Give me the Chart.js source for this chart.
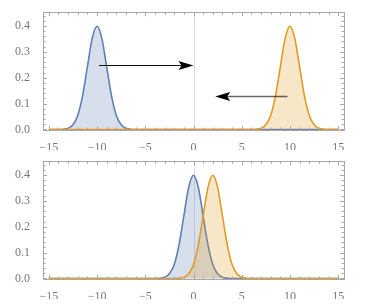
<!DOCTYPE html>
<html>
<head>
<meta charset="utf-8">
<script src="https://cdn.jsdelivr.net/npm/chart.js@4/dist/chart.umd.min.js"></script>
<style>
  body { margin: 0; background: #fff; }
  canvas { position: absolute; left: 0; }
  #top-canvas { top: 0; }
  #bottom-canvas { top: 149px; }
</style>
</head>
<body>
<canvas id="top-canvas" width="374" height="150"></canvas>
<canvas id="bottom-canvas" width="374" height="150"></canvas>
<script>
// density values, same bell shape for every curve
const bellY = [0, 0.0001, 0.0009, 0.0044, 0.018, 0.054, 0.130, 0.242, 0.352, 0.399,
  0.352, 0.242, 0.130, 0.054, 0.018, 0.0044, 0.0009, 0.0001, 0];

const topBlueX = [-15, -14, -13.5, -13, -12.5, -12, -11.5, -11, -10.5, -10, -9.5, -9, -8.5, -8, -7.5, -7, -6.5, -6, 15];
const topOrangeX = [-15, 6, 6.5, 7, 7.5, 8, 8.5, 9, 9.5, 10, 10.5, 11, 11.5, 12, 12.5, 13, 13.5, 14, 15];
const bottomBlueX = [-15, -4, -3.5, -3, -2.5, -2, -1.5, -1, -0.5, 0, 0.5, 1, 1.5, 2, 2.5, 3, 3.5, 4, 15];
const bottomOrangeX = [-15, -2, -1.5, -1, -0.5, 0, 0.5, 1, 1.5, 2, 2.5, 3, 3.5, 4, 4.5, 5, 5.5, 6, 15];

const xTicks = [-15, -10, -5, 0, 5, 10, 15];
const yTicks = [0, 0.1, 0.2, 0.3, 0.4];

// arrows in the top panel: [fromX, fromY, toX, toY]
const topArrows = [
  [-9.8, 0.25, 0, 0.25],
  [9.75, 0.13, 2.25, 0.13]
];

const BLUE = "#5e81b5";
const ORANGE = "#e19c24";
const GRAY = "#a8a8a8";

function toPoints(xs, ys) {
  return xs.map((x, i) => ({ x, y: ys[i] }));
}

const framePlugin = {
  id: "frame",
  beforeDatasetsDraw(chart) {
    const { ctx, chartArea: a, scales: { x } } = chart;
    const px = Math.round(x.getPixelForValue(0)) + 0.5;
    ctx.save();
    ctx.strokeStyle = "#dcdcdc";
    ctx.lineWidth = 1;
    ctx.beginPath();
    ctx.moveTo(px, a.top);
    ctx.lineTo(px, a.bottom);
    ctx.stroke();
    ctx.restore();
  },
  afterDraw(chart) {
    const { ctx, chartArea: a, scales: { x, y } } = chart;
    ctx.save();
    ctx.strokeStyle = GRAY;
    ctx.lineWidth = 1;
    ctx.strokeRect(Math.round(a.left) + 0.5, Math.round(a.top) + 0.5,
      Math.round(a.right - a.left), Math.round(a.bottom - a.top));

    ctx.beginPath();
    for (let v = -15; v <= 15; v++) {
      const len = v % 5 === 0 ? 4 : 2.5;
      const px = Math.round(x.getPixelForValue(v)) + 0.5;
      ctx.moveTo(px, a.bottom);
      ctx.lineTo(px, a.bottom - len);
      ctx.moveTo(px, a.top);
      ctx.lineTo(px, a.top + len);
    }
    for (let k = 0; k <= 22; k++) {
      const v = k * 0.02;
      const len = k % 5 === 0 ? 4 : 2.5;
      const py = Math.round(y.getPixelForValue(v)) + 0.5;
      ctx.moveTo(a.left, py);
      ctx.lineTo(a.left + len, py);
      ctx.moveTo(a.right, py);
      ctx.lineTo(a.right - len, py);
    }
    ctx.stroke();
    ctx.restore();
  }
};

const arrowPlugin = {
  id: "arrows",
  afterDatasetsDraw(chart, args, opts) {
    const list = opts.items || [];
    const { ctx, scales: { x, y } } = chart;
    ctx.save();
    list.forEach(([x1, y1, x2, y2], i) => {
      const ax = x.getPixelForValue(x1), ay = Math.round(y.getPixelForValue(y1)) + 0.5;
      const bx = x.getPixelForValue(x2), by = Math.round(y.getPixelForValue(y2)) + 0.5;
      const dir = Math.sign(bx - ax);
      const headLen = 15, half = 4.6, notch = 3;
      ctx.strokeStyle = i === 0 ? "#111" : "rgba(0,0,0,0.6)";
      ctx.lineWidth = i === 0 ? 1.1 : 1.5;
      ctx.beginPath();
      ctx.moveTo(ax, ay);
      ctx.lineTo(bx - dir * notch * 2, by);
      ctx.stroke();
      ctx.fillStyle = "#000";
      ctx.beginPath();
      ctx.moveTo(bx, by);
      ctx.lineTo(bx - dir * headLen, by - half);
      ctx.lineTo(bx - dir * (headLen - notch), by);
      ctx.lineTo(bx - dir * headLen, by + half);
      ctx.closePath();
      ctx.fill();
    });
    ctx.restore();
  }
};

function makePanel(canvasId, blueX, orangeX, arrows) {
  const canvas = document.getElementById(canvasId);
  return new Chart(canvas.getContext("2d"), {
    type: "line",
    data: {
      datasets: [
        {
          data: toPoints(blueX, bellY),
          borderColor: BLUE,
          backgroundColor: "rgba(94,129,181,0.25)",
          fill: "origin",
          order: 2
        },
        {
          data: toPoints(orangeX, bellY),
          borderColor: ORANGE,
          backgroundColor: "rgba(225,156,36,0.25)",
          fill: "origin",
          order: 1
        }
      ]
    },
    options: {
      responsive: false,
      animation: false,
      devicePixelRatio: 1,
      layout: { padding: { top: 10, right: 30, left: 0, bottom: 0 } },
      elements: {
        point: { radius: 0 },
        line: { borderWidth: 1.6, cubicInterpolationMode: "monotone" }
      },
      plugins: {
        legend: { display: false },
        tooltip: { enabled: false },
        arrows: { items: arrows }
      },
      scales: {
        x: {
          type: "linear",
          min: -15.6,
          max: 15.6,
          grid: { display: false },
          border: { display: false },
          afterBuildTicks: s => { s.ticks = xTicks.map(v => ({ value: v })); },
          afterFit: s => { s.height = 20; },
          ticks: {
            padding: 3,
            color: "#777",
            font: { family: "'Liberation Serif', 'DejaVu Serif', serif", size: 12 },
            maxRotation: 0,
            callback: v => v < 0 ? "\u2212" + Math.abs(v) : String(v)
          }
        },
        y: {
          type: "linear",
          min: -0.002,
          max: 0.453,
          grid: { display: false },
          border: { display: false },
          afterBuildTicks: s => { s.ticks = yTicks.map(v => ({ value: v })); },
          afterFit: s => { s.width = 43; },
          ticks: {
            padding: 5,
            color: "#777",
            font: { family: "'Liberation Serif', 'DejaVu Serif', serif", size: 12 },
            callback: v => Number(v).toFixed(1)
          }
        }
      }
    },
    plugins: [framePlugin, arrowPlugin]
  });
}

makePanel("top-canvas", topBlueX, topOrangeX, topArrows);
makePanel("bottom-canvas", bottomBlueX, bottomOrangeX, []);
</script>
</body>
</html>
